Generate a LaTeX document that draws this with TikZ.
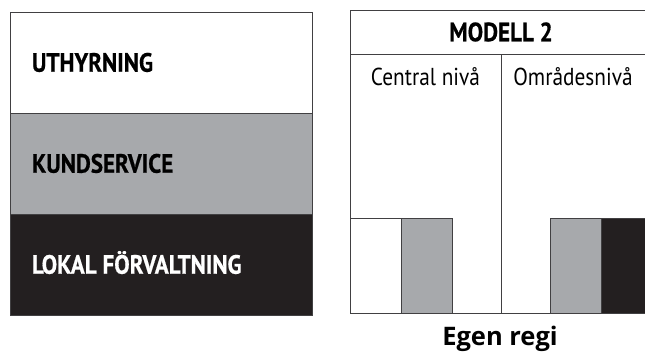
\documentclass[tikz,border=0pt]{standalone}
\usepackage{fontspec}
\newfontfamily\condfont[FakeStretch=0.87, BoldFeatures={FakeBold=0.6}]{PT Sans}
\newfontfamily\labelfont{Open Sans}
\usetikzlibrary{positioning}
\definecolor{barGray}{HTML}{A7A9AC}
\definecolor{barBlack}{HTML}{231F20}
\definecolor{frameLine}{HTML}{414042}

\begin{document}
\begin{tikzpicture}[x=1pt, y=-1pt,
  band/.style={draw=frameLine, line width=0.9pt, outer sep=0pt,
    minimum width=302pt, minimum height=101pt, text width=258pt,
    inner xsep=22pt, inner ysep=0pt, align=left, anchor=north west,
    text height=18.5pt, text depth=0pt,
    font=\condfont\bfseries\fontsize{26.5}{30}\selectfont},
  frame/.style={draw=frameLine, line width=0.9pt, outer sep=0pt, inner sep=0pt,
    anchor=north west},
  bar/.style={frame, minimum width=51pt, minimum height=95pt},
  colhead/.style={font=\condfont\fontsize{24.5}{28}\selectfont, inner sep=0pt, anchor=base}
]
  \useasboundingbox (0,0) rectangle (645,352);
  \clip (0,0) rectangle (645,352);
  \fill[white] (0,0) rectangle (645,352);

  % three task bands
  \node[band, fill=white] (uthyrning) at (10,12) {UTHYRNING};
  \node[band, fill=barGray, below=0pt of uthyrning] (kundservice) {KUNDSERVICE};
  \node[band, fill=barBlack, text=white, below=0pt of kundservice] (lokal) {LOKAL\hspace{6pt}FÖRVALTNING};

  % model 2 frame
  \node[frame, minimum width=302pt, minimum height=44pt,
    font=\condfont\bfseries\fontsize{26.5}{30}\selectfont] (header) at (350,10) {MODELL 2};
  \node[frame, minimum width=151pt, minimum height=259pt] (central) at (header.south west) {};
  \node[frame, minimum width=151pt, minimum height=259pt] (omrade) at (header.south) {};
  \node[colhead] (centrallbl) at (425.5,86) {Central nivå};
  \node[colhead] (omradelbl) at (573,86) {Områdesnivå};

  % bars
  \node[bar, fill=white] (barA) at (350,218) {};
  \node[bar, fill=barGray, right=0pt of barA] (barB) {};
  \node[bar, fill=barGray] (barC) at (550,218) {};
  \node[bar, fill=barBlack, right=0pt of barC] (barD) {};

  \node[font=\labelfont\bfseries\fontsize{25.5}{28}\selectfont, inner sep=0pt, anchor=base]
    (regi) at (500,346) {Egen regi};
\end{tikzpicture}
\end{document}
